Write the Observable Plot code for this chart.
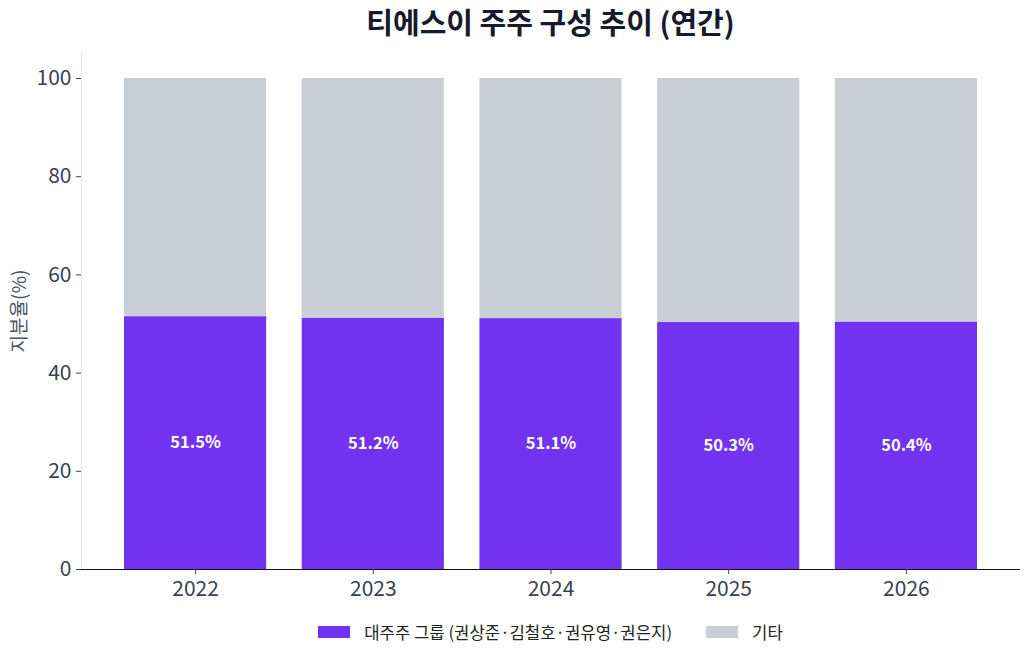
<!DOCTYPE html>
<html>
<head>
<meta charset="utf-8">
<script src="https://cdn.jsdelivr.net/npm/d3@7"></script>
<script src="https://cdn.jsdelivr.net/npm/@observablehq/plot@0.6"></script>
<style>
  body { margin: 0; background: #fff; font-family: "Noto Sans CJK KR", "Noto Sans", sans-serif; }
  #wrap { width: 1030px; }
  #title { height: 40px; line-height: 43px; padding-left: 81px; padding-right: 10px; text-align: center;
           font-size: 29px; font-weight: 700; color: #161a2b; }
  #legend { display: flex; justify-content: center; align-items: center; padding-left: 81px; padding-right: 10px;
            margin-top: 10px; font-size: 16.7px; color: #222; }
  .item { display: flex; align-items: center; margin: 0 17px; }
  .sw { width: 32px; height: 12px; margin-right: 14px; }
</style>
</head>
<body>
<div id="wrap">
  <div id="title">티에스이 주주 구성 추이 (연간)</div>
  <div id="chart"></div>
  <div id="legend"></div>
</div>
<script>
const years = ["2022", "2023", "2024", "2025", "2026"];
const seriesNames = ["대주주 그룹 (권상준·김철호·권유영·권은지)", "기타"];
const majorValues = [51.5, 51.2, 51.1, 50.3, 50.4];
const otherValues = [48.5, 48.8, 48.9, 49.7, 49.6];
const yTicks = [0, 20, 40, 60, 80, 100];
const colors = ["#7133f0", "#c9cdd6"];

const majorRows = years.map((y, i) => ({year: y, group: seriesNames[0], value: majorValues[i]}));
const otherRows = years.map((y, i) => ({year: y, group: seriesNames[1], value: otherValues[i]}));
const rows = majorRows.concat(otherRows);

const chart = Plot.plot({
  width: 1030,
  height: 570,
  marginLeft: 81,
  marginRight: 10,
  marginTop: 12,
  marginBottom: 41,
  style: { fontFamily: "'Noto Sans CJK KR', 'Noto Sans', sans-serif", background: "white" },
  x: { type: "band", domain: years, paddingInner: 0.2, paddingOuter: 0.242, round: false, label: null },
  y: { domain: [0, 105.3], label: null },
  color: { domain: seriesNames, range: colors },
  marks: [
    Plot.frame({ anchor: "left", stroke: "#e3e3e3" }),
    Plot.barY(rows, { x: "year", y: "value", fill: "group" }),
    Plot.text(majorRows, { x: "year", y: d => d.value / 2, text: d => d.value.toFixed(1) + "%",
      fill: "white", fontWeight: "bold", fontSize: 16.5 }),
    Plot.ruleY([0], { stroke: "#111" }),
    Plot.axisY({ ticks: yTicks, tickSize: 5, tickPadding: 5, fontSize: 21, fill: "#3a4153", stroke: "#3a4153", label: null }),
    Plot.axisX({ tickSize: 5, tickPadding: 7, fontSize: 21, fill: "#3a4153", stroke: "#3a4153", label: null }),
    Plot.text(["지분율(%)"], { frameAnchor: "left", textAnchor: "middle", dx: -62, rotate: -90, fontSize: 19, fill: "#4b5263" })
  ]
});
document.getElementById("chart").appendChild(chart);

const legend = document.getElementById("legend");
seriesNames.forEach((name, i) => {
  const item = document.createElement("div");
  item.className = "item";
  const sw = document.createElement("div");
  sw.className = "sw";
  sw.style.background = colors[i];
  const label = document.createElement("span");
  label.textContent = name;
  item.appendChild(sw);
  item.appendChild(label);
  legend.appendChild(item);
});
</script>
</body>
</html>
